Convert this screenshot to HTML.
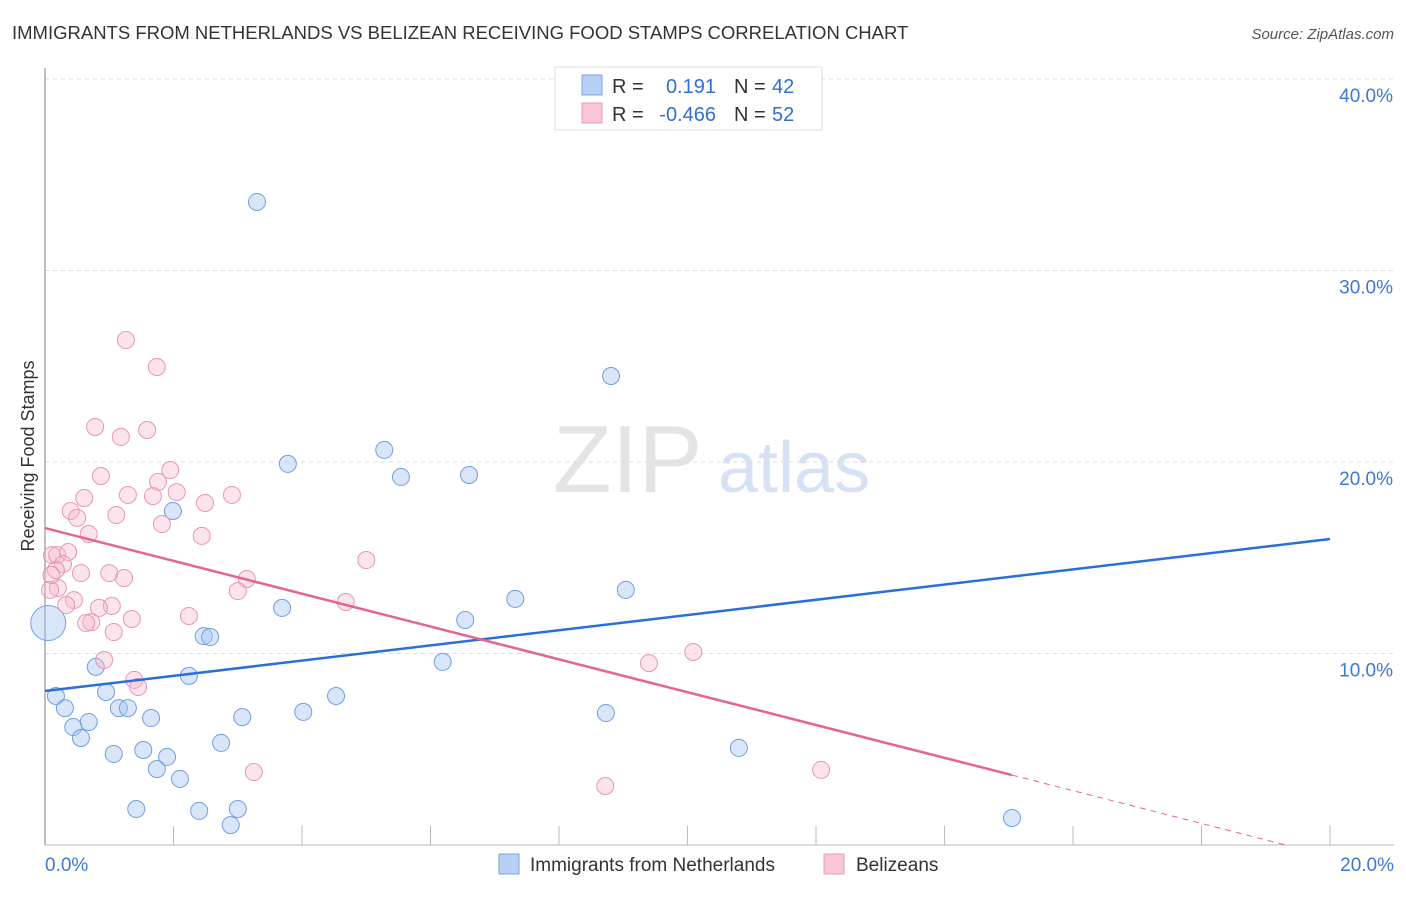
<!DOCTYPE html>
<html><head><meta charset="utf-8"><style>
body{margin:0;background:#fff;font-family:"Liberation Sans",sans-serif;}
svg text{font-family:"Liberation Sans",sans-serif;}
</style></head><body>
<svg id="chart" width="1406" height="892" xmlns="http://www.w3.org/2000/svg">
<text x="12" y="39" font-size="18.5" fill="#333">IMMIGRANTS FROM NETHERLANDS VS BELIZEAN RECEIVING FOOD STAMPS CORRELATION CHART</text>
<text x="1394" y="39" font-size="15" fill="#555" text-anchor="end" font-style="italic">Source: ZipAtlas.com</text>
<g>
<text x="553" y="492" font-size="96" fill="#e4e4e4" font-family="Liberation Serif, serif">ZIP</text>
<text x="718" y="492" font-size="72" fill="#d6e2f4">atlas</text>
</g>
<g id="grid"></g>
<line x1="45" y1="68" x2="45" y2="845" stroke="#aaa" stroke-width="1.5"/>
<line x1="45" y1="845" x2="1394" y2="845" stroke="#bbb" stroke-width="1"/>
<text transform="translate(34,456) rotate(-90)" font-size="18" fill="#333" text-anchor="middle">Receiving Food Stamps</text>
<g id="marks"></g>
<g>
<rect x="555" y="67" width="267" height="63" fill="#fff" stroke="#ddd"/>
<rect x="582" y="75" width="20" height="20" fill="#b8d0f3" stroke="#7aa6e6"/>
<text x="612" y="93" font-size="20" fill="#333">R =</text>
<text x="716" y="93" font-size="20" fill="#2f6fd6" text-anchor="end">0.191</text>
<text x="734" y="93" font-size="20" fill="#333">N =</text>
<text x="772" y="93" font-size="20" fill="#2f6fd6">42</text>
<rect x="582" y="103" width="20" height="20" fill="#f8c6d6" stroke="#ec9bb6"/>
<text x="612" y="121" font-size="20" fill="#333">R =</text>
<text x="716" y="121" font-size="20" fill="#2f6fd6" text-anchor="end">-0.466</text>
<text x="734" y="121" font-size="20" fill="#333">N =</text>
<text x="772" y="121" font-size="20" fill="#2f6fd6">52</text>
</g>
<g>
<rect x="499" y="854" width="20" height="20" fill="#b8d0f3" stroke="#7aa6e6"/>
<text x="530" y="871" font-size="19" fill="#333">Immigrants from Netherlands</text>
<rect x="824" y="854" width="20" height="20" fill="#f8c6d6" stroke="#ec9bb6"/>
<text x="856" y="871" font-size="19" fill="#333">Belizeans</text>
</g>
</svg>
<script>
const yTicks=[10,20,30,40];
const yTickLabels=["10.0%","20.0%","30.0%","40.0%"];
const xTickLabels=["0.0%","20.0%"];
const blueX=[3.30,8.81,5.28,3.78,5.54,6.60,1.99,9.04,7.32,3.69,6.54,2.47,2.57,0.05,6.19,0.79,2.24,0.17,0.95,4.53,0.31,1.15,1.29,4.02,1.65,3.07,8.73,0.68,0.44,0.56,2.74,10.80,1.07,1.53,1.90,1.74,2.10,1.42,2.40,3.00,2.89,15.05];
const blueY=[33.58,24.49,20.63,19.90,19.22,19.32,17.44,13.32,12.85,12.38,11.75,10.91,10.86,11.59,9.56,9.30,8.83,7.78,7.99,7.78,7.15,7.15,7.15,6.95,6.63,6.68,6.89,6.42,6.16,5.59,5.33,5.07,4.75,4.96,4.60,3.97,3.45,1.88,1.78,1.88,1.04,1.41];
const pinkX=[1.26,1.74,0.78,1.59,1.18,1.95,0.87,1.76,0.61,1.29,1.68,2.05,2.91,2.49,0.40,1.11,0.50,1.82,0.68,2.44,0.11,0.19,0.36,0.28,0.17,5.00,0.56,1.00,1.23,3.14,3.00,0.20,0.08,0.45,0.33,4.68,1.04,0.84,2.24,1.35,0.72,0.64,1.07,0.92,10.09,9.40,1.39,1.45,3.25,12.08,8.72,0.10];
const pinkY=[26.37,24.96,21.83,21.67,21.31,19.58,19.27,18.96,18.12,18.28,18.22,18.43,18.28,17.86,17.44,17.23,17.08,16.76,16.24,16.14,15.14,15.14,15.30,14.67,14.36,14.88,14.20,14.20,13.94,13.89,13.26,13.42,13.32,12.79,12.53,12.69,12.48,12.38,11.96,11.80,11.64,11.59,11.12,9.66,10.08,9.50,8.62,8.25,3.81,3.92,3.08,14.10];
const blueLine=[8.04,15.98];
const pinkLine=[16.55,-0.857,15.05,19.3];
const NS="http://www.w3.org/2000/svg";
const sx=v=>45+v*64.25, sy=v=>845-v*19.15;
const grid=document.getElementById('grid'), marks=document.getElementById('marks');
function mk(t,a,p){const e=document.createElementNS(NS,t);for(const k in a)e.setAttribute(k,a[k]);p.appendChild(e);return e;}
yTicks.forEach((t,i)=>{
 const l=mk('line',{x1:45,x2:1394,y1:sy(t),y2:sy(t),stroke:'#ddd','stroke-dasharray':'4,4'},grid);
 
 
 const tx=mk('text',{x:1393,y:sy(t)+23,'font-size':19,fill:'#3b78d8','text-anchor':'end'},grid);
 tx.textContent=yTickLabels[i];
 
 
});
for(let i=1;i<=10;i++){
 const l=mk('line',{x1:sx(i*2),x2:sx(i*2),y1:826,y2:845,stroke:'#bbb'},grid);
 
 
}
xTickLabels.forEach((t,i)=>{
 const tx=mk('text',{x:i?1394:45,y:871,'font-size':19,fill:'#3b78d8','text-anchor':i?'end':'start'},grid);
 tx.textContent=t;
 
 
});
blueX.forEach((x,i)=>{
 const c=mk('circle',{cx:sx(x),cy:sy(blueY[i]),r:i==13?17.5:8.5,fill:'rgba(164,196,240,0.42)',stroke:'#6f9fe0','stroke-width':1},marks);
 
 
});
pinkX.forEach((x,i)=>{
 const c=mk('circle',{cx:sx(x),cy:sy(pinkY[i]),r:8.5,fill:'rgba(246,184,204,0.38)',stroke:'#e995b1','stroke-width':1},marks);
 
 
});
const bl=mk('line',{x1:sx(0),y1:sy(blueLine[0]),x2:sx(20),y2:sy(blueLine[1]),stroke:'#2a6fd6','stroke-width':2.5},marks);


const pf=x=>pinkLine[0]+pinkLine[1]*x;
const pl=mk('line',{x1:sx(0),y1:sy(pf(0)),x2:sx(pinkLine[2]),y2:sy(pf(pinkLine[2])),stroke:'#e4658f','stroke-width':2.5},marks);


const pd=mk('line',{x1:sx(pinkLine[2]),y1:sy(pf(pinkLine[2])),x2:sx(pinkLine[3]),y2:sy(pf(pinkLine[3])),stroke:'#e4658f','stroke-width':1,'stroke-dasharray':'6,5'},marks);


</script>
</body></html>
